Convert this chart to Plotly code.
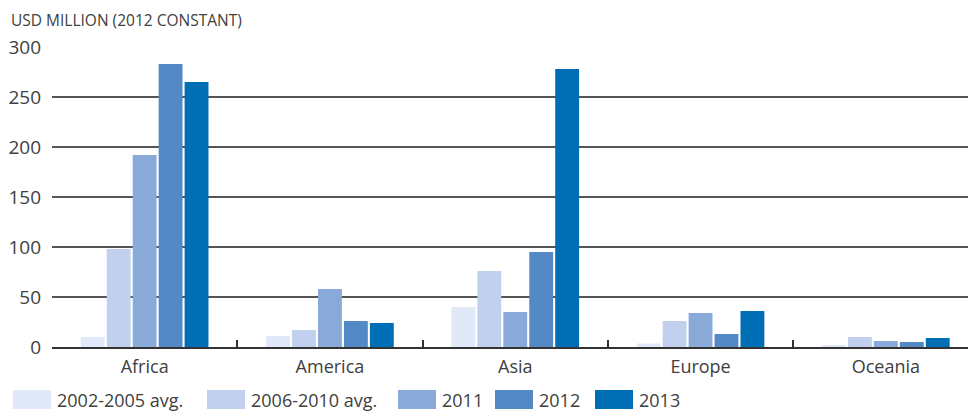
import plotly.graph_objects as go

categories = ["Africa", "America", "Asia", "Europe", "Oceania"]
series_names = ["2002-2005 avg.", "2006-2010 avg.", "2011", "2012", "2013"]
v_2002_2005 = [10, 11, 40, 3.5, 1.3]
v_2006_2010 = [98, 17, 76, 26, 10]
v_2011 = [192, 58, 35, 34, 6]
v_2012 = [283, 26, 95, 13, 5]
v_2013 = [265, 24, 278, 36, 9]
series_values = [v_2002_2005, v_2006_2010, v_2011, v_2012, v_2013]
colors = ["#E1E8F8", "#C1D0EE", "#89A9D9", "#5589C6", "#006EB4"]
y_ticks = [0, 50, 100, 150, 200, 250, 300]

W, H = 970, 411
L, T, B = 52, 47, 347
R = 968
pw, ph = R - L, B - T

def px(x):
    return (x - L) / pw

def py(y):
    return (B - y) / ph

FONT = "Open Sans"
TXT = "#404040"

fig = go.Figure()
for name, vals, col in zip(series_names, series_values, colors):
    fig.add_trace(go.Bar(x=categories, y=vals, name=name, marker_color=col,
                         marker_line_width=0, showlegend=False))

cat_w = 185.3
fig.update_layout(
    width=W, height=H,
    margin=dict(l=L, r=W - R, t=T, b=H - B, pad=0),
    paper_bgcolor="white", plot_bgcolor="white",
    barmode="group", bargap=0.3, bargroupgap=0.08,
    font=dict(family=FONT, color=TXT),
    xaxis=dict(range=[-0.5, -0.5 + pw / cat_w], showline=True, linecolor="#333333",
               linewidth=2, ticks="inside", tickson="boundaries", ticklen=7,
               tickcolor="#333333", tickwidth=1.5, showgrid=False,
               tickfont=dict(size=18, color=TXT, family=FONT), ticklabelstandoff=2),
    yaxis=dict(range=[0, 300], tickvals=y_ticks, showgrid=True, gridcolor="#555555",
               gridwidth=1.5, zeroline=False, showline=False, ticks="",
               tickfont=dict(size=19, color=TXT, family=FONT), ticklabelstandoff=10),
)

annotations = [dict(text="USD MILLION (2012 CONSTANT)", xref="paper", yref="paper",
                    x=px(9), y=py(20), xanchor="left", yanchor="middle", showarrow=False,
                    font=dict(size=15.5, color=TXT, family=FONT))]
shapes = []
sw_x = [13, 207, 398, 495, 595]
for i, (name, col) in enumerate(zip(series_names, colors)):
    x0 = sw_x[i]
    shapes.append(dict(type="rect", xref="paper", yref="paper", x0=px(x0), x1=px(x0 + 38),
                       y0=py(390), y1=py(409), fillcolor=col, line_width=0))
    annotations.append(dict(text=name, xref="paper", yref="paper", x=px(x0 + 42), y=py(399.5),
                            xanchor="left", yanchor="middle", showarrow=False,
                            font=dict(size=18, color=TXT, family=FONT)))
fig.update_layout(annotations=annotations, shapes=shapes)

fig.write_html("out.html", config={"displayModeBar": False},
               post_script="document.body.style.margin='0';document.body.style.overflow='hidden';")
